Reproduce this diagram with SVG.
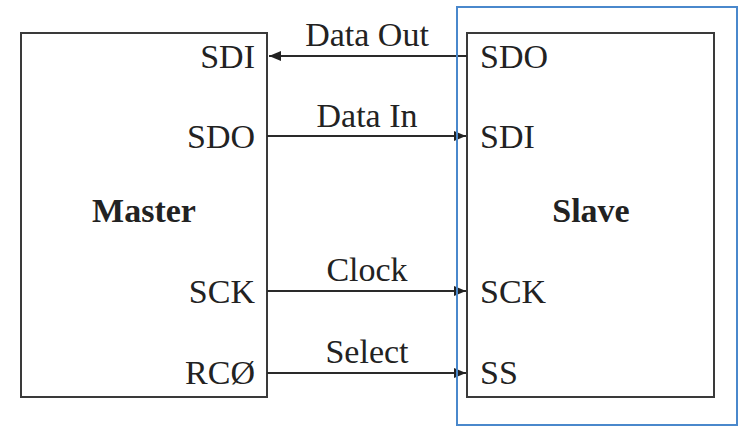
<svg xmlns="http://www.w3.org/2000/svg" width="739" height="428" viewBox="0 0 739 428">
<style>
.box{fill:#fff;stroke:#3a3a3a;stroke-width:2}
.t{font-family:"Liberation Serif","Times New Roman",serif;font-size:34px;fill:#222}
.b{font-weight:bold}
.w{stroke:#2a2a2a;stroke-width:2;fill:none}
</style>
<defs>
<marker id="ah" markerWidth="12" markerHeight="10" refX="12" refY="5" orient="auto" markerUnits="userSpaceOnUse">
<path d="M0,0 L12,5 L0,10 Z" fill="#222"/>
</marker>
</defs>
<rect width="739" height="428" fill="#fff"/>
<g id="master">
<rect class="box" x="21" y="33" width="246" height="364"/>
<text class="t b" x="144" y="222" text-anchor="middle">Master</text>
<text class="t" x="255" y="68" text-anchor="end">SDI</text>
<text class="t" x="255" y="148" text-anchor="end">SDO</text>
<text class="t" x="255" y="303" text-anchor="end">SCK</text>
<text class="t" x="255" y="384" text-anchor="end">RCØ</text>
</g>
<g id="slave">
<rect class="box" x="467" y="33" width="247" height="364"/>
<text class="t b" x="591" y="222" text-anchor="middle">Slave</text>
<text class="t" x="480" y="68">SDO</text>
<text class="t" x="480" y="148">SDI</text>
<text class="t" x="480" y="303">SCK</text>
<text class="t" x="480" y="384">SS</text>
</g>
<g id="connectors">
<line class="w" x1="467" y1="56" x2="269" y2="56" marker-end="url(#ah)"/>
<line class="w" x1="267" y1="136" x2="466" y2="136" marker-end="url(#ah)"/>
<line class="w" x1="267" y1="291" x2="466" y2="291" marker-end="url(#ah)"/>
<line class="w" x1="267" y1="373" x2="466" y2="373" marker-end="url(#ah)"/>
<text class="t" x="367" y="46" text-anchor="middle">Data Out</text>
<text class="t" x="367" y="127" text-anchor="middle">Data In</text>
<text class="t" x="367" y="281" text-anchor="middle">Clock</text>
<text class="t" x="367" y="363" text-anchor="middle">Select</text>
</g>
<g id="highlight">
<rect x="457" y="7" width="280" height="418" fill="none" stroke="#4a88cc" stroke-width="2"/>
</g>
</svg>
